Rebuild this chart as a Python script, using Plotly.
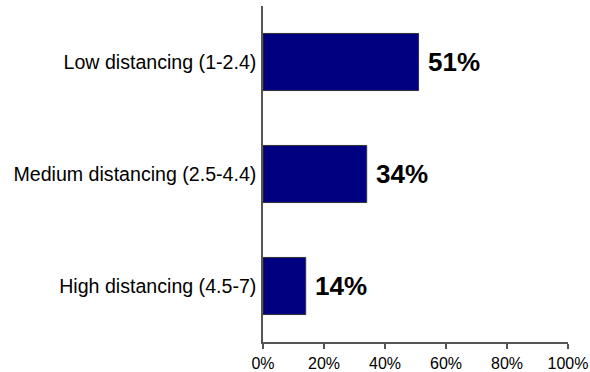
import plotly.graph_objects as go

# Share of respondents by distancing level
categories = ["Low distancing (1-2.4)", "Medium distancing (2.5-4.4)", "High distancing (4.5-7)"]
shares = [0.51, 0.34, 0.14]
x_ticks = [0, 0.2, 0.4, 0.6, 0.8, 1.0]
x_tick_labels = ["0%", "20%", "40%", "60%", "80%", "100%"]

fig = go.Figure()
fig.add_trace(go.Bar(
    x=shares,
    y=categories,
    orientation="h",
    marker=dict(color="#000080", line=dict(color="#333333", width=1)),
    hoverinfo="skip",
))

# Value labels to the right of each bar
for cat, val in zip(categories, shares):
    fig.add_annotation(
        x=val, y=cat, xref="x", yref="y",
        text=f"<b>{val * 100:.0f}%</b>",
        showarrow=False, xanchor="left", yanchor="middle",
        xshift=7, yshift=0,
        font=dict(family="Liberation Sans, Arial, sans-serif", size=26, color="#000000"),
    )

fig.update_layout(
    width=590, height=372,
    margin=dict(l=263, r=22, t=6, b=30),
    paper_bgcolor="white", plot_bgcolor="white",
    bargap=0.49,
    showlegend=False,
    font=dict(family="Liberation Sans, Arial, sans-serif", color="#000000"),
)
fig.update_xaxes(
    range=[0, 1],
    tickvals=x_ticks, ticktext=x_tick_labels,
    showgrid=False, zeroline=False,
    showline=True, linecolor="#555555", linewidth=1.5,
    ticks="outside", ticklen=5, tickcolor="#555555", tickwidth=1.5,
    ticklabelstandoff=1,
    tickfont=dict(size=16),
    automargin=False,
)
fig.update_yaxes(
    categoryorder="array", categoryarray=categories[::-1],
    range=[-0.5, 2.5],
    showgrid=False, zeroline=False,
    showline=True, linecolor="#555555", linewidth=1.5,
    ticks="", ticklabelstandoff=1,
    tickfont=dict(size=19.6),
    automargin=False,
)

fig.write_html("out.html")
